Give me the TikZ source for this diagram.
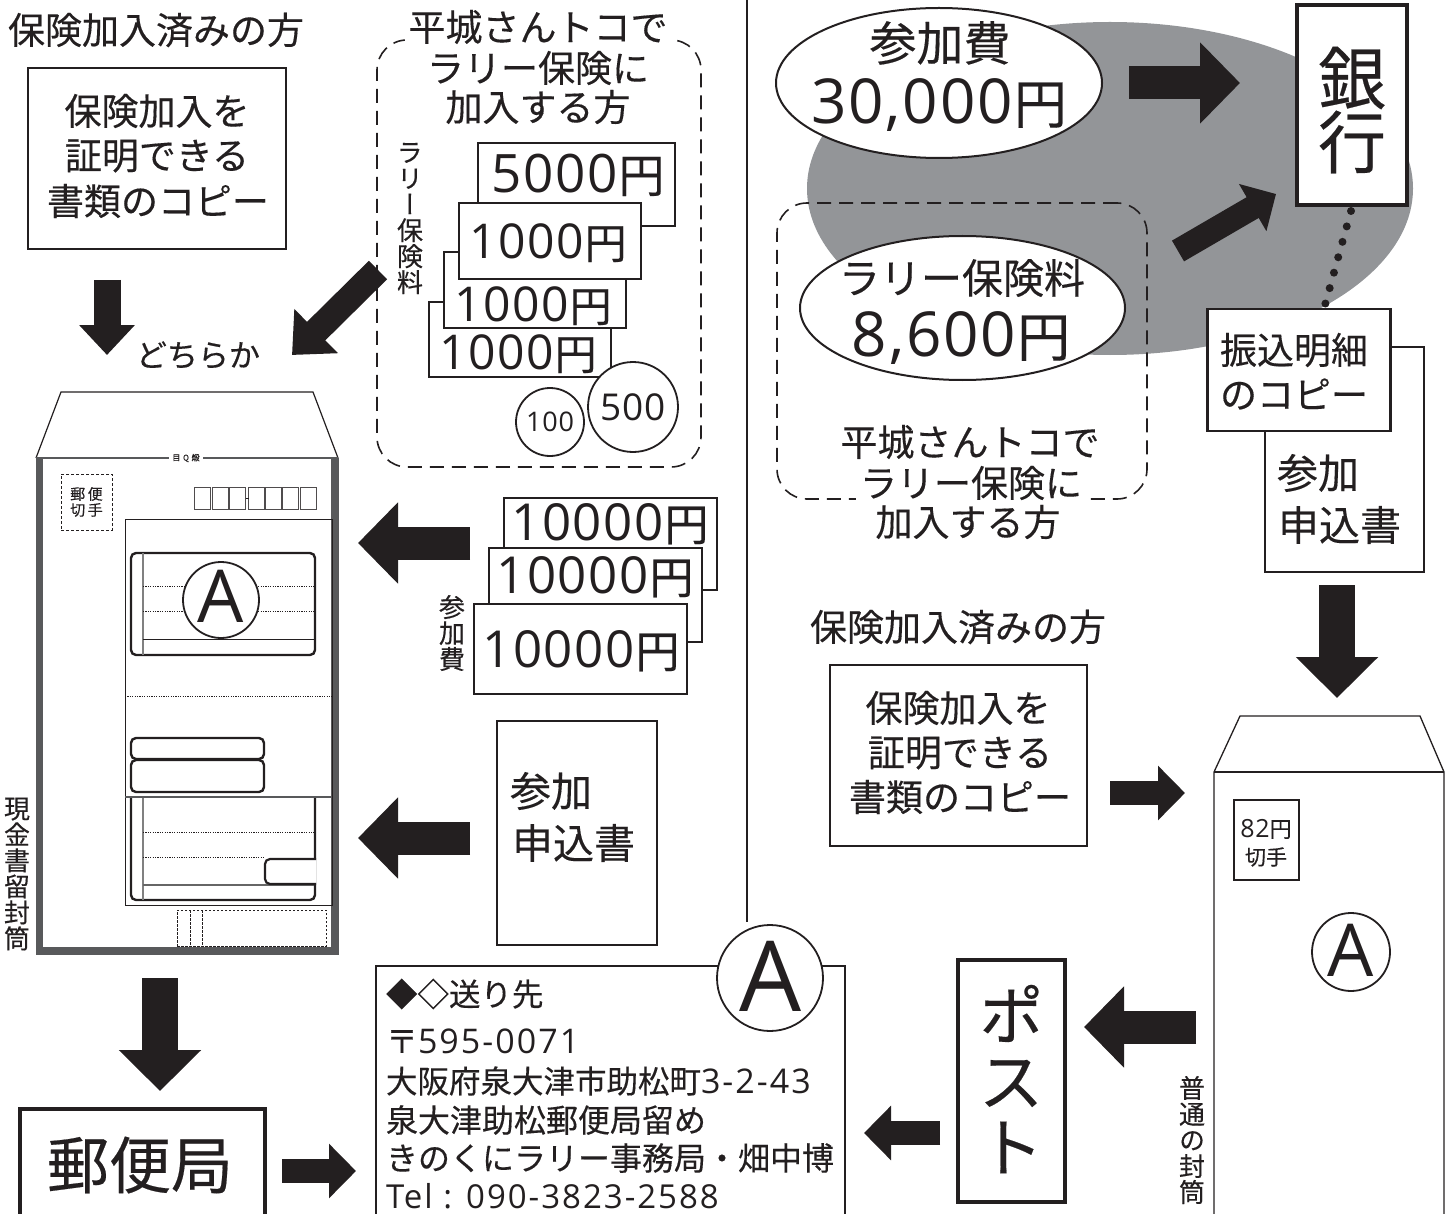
\documentclass[tikz,border=0pt]{standalone}
\usepackage{fontspec}
\setmainfont[FakeBold=0.3]{Noto Sans CJK JP}
\newfontfamily\vfont[RawFeature={+vert},FakeBold=0.3]{Noto Sans CJK JP}
\newfontfamily\dgf[LetterSpace=3]{Open Sans}
\newfontfamily\dgw[LetterSpace=6]{Open Sans}
\usetikzlibrary{arrows.meta,shapes.geometric}
\definecolor{ink}{HTML}{231F20}
\definecolor{greyfill}{HTML}{939598}
\definecolor{band}{HTML}{58595B}
\newcommand{\fs}[1]{\fontsize{#1}{#1}\selectfont}
\newcommand{\yen}[3]{{\fs{#1}\dgf #3}{\fs{#2}\kern1pt 円}}
\tikzset{
  every node/.style={inner sep=0pt,outer sep=0pt,text=ink},
  tx/.style={font=\fs{#1}},
  dg/.style={font=\fs{#1}\dgf},
  vt/.style={font=\fs{#1}\vfont,align=center},
  boxa/.style={draw=ink,line width=2.2pt,fill=white},
  boxb/.style={draw=ink,line width=4.5pt,fill=white},
  dashbox/.style={draw=ink,line width=1.6pt,dash pattern=on 14pt off 8pt,rounded corners=30pt},
  ell/.style={ellipse,draw=ink,line width=2pt,fill=white},
  circ/.style={circle,draw=ink,line width=1.8pt,fill=white},
  arrbig/.style={draw=ink,line width=33pt,-{Triangle[length=40pt,width=79pt]}},
  arrdown/.style={draw=ink,line width=36pt,-{Triangle[length=41pt,width=80pt]}},
  arrmid/.style={draw=ink,line width=27pt,-{Triangle[length=30pt,width=54pt]}},
  arrsm/.style={draw=ink,line width=24pt,-{Triangle[length=27pt,width=53pt]}},
  thin1/.style={draw=ink,line width=0.9pt},
  dots/.style={draw=ink,line width=0.8pt,dash pattern=on 1.2pt off 1.2pt},
  rr/.style={draw=ink,line width=2.4pt,rounded corners=5pt},
  tiny/.style={draw=ink,line width=0.8pt,dash pattern=on 2.5pt off 1.5pt},
  post/.style={draw=ink!80,line width=1pt,fill=white,minimum width=16pt,minimum height=22pt},
}
\begin{document}
\begin{tikzpicture}[x=1pt,y=-1pt]
\useasboundingbox (0,0) rectangle (1447,1214);
\clip (0,0) rectangle (1447,1214);

% centre rule
\coordinate (ruletop) at (747,0);
\coordinate (rulebot) at (747,922);
\draw[draw=ink,line width=2pt] (ruletop) -- (rulebot);

% ---------- left column
\node[tx=37,anchor=west] (t1) at (8,30) {保険加入済みの方};
\node[boxa,minimum width=258pt,minimum height=181pt] (ins) at (157,158.5) {};
\node[tx=37] (ins1) at (157,111) {保険加入を};
\node[tx=37] (ins2) at (157,156) {証明できる};
\node[tx=37] (ins3) at (158,201) {書類のコピー};
\node[tx=31] (either) at (198,355) {どちらか};

\node[dashbox,draw,minimum width=324pt,minimum height=427pt] (dl) at (539,253.5) {};
\node[tx=37,fill=white,inner xsep=4pt] (dl1) at (538,27) {平城さんトコで};
\node[tx=37] (dl2) at (538,68) {ラリー保険に};
\node[tx=37] (dl3) at (538,107) {加入する方};
\node[vt=26] (vl) at (410,218.5) {ラ\\リ\\ー\\保\\険\\料};

\node[boxa,minimum width=197pt,minimum height=83pt] (b5) at (576.5,184.5) {};
\node (b5t) at (578,175) {\yen{53}{46}{5000}};
\node[boxa,minimum width=182pt,minimum height=75pt] (b3) at (520,339.5) {};
\node (b3t) at (518,354) {\yen{48}{42}{1000}};
\node[boxa,minimum width=182pt,minimum height=76pt] (b2) at (535,290) {};
\node (b2t) at (533,306) {\yen{48}{42}{1000}};
\node[boxa,minimum width=182pt,minimum height=76pt] (b1) at (550,241) {};
\node (b1t) at (548,243) {\yen{48}{42}{1000}};
\node[circ,minimum size=68pt,dg=27] (c100) at (550,422) {100};
\node[circ,minimum size=90pt,dg=37] (c500) at (633,407) {500};

% cash
\node[boxa,minimum width=213pt,minimum height=92pt] (y3) at (610.5,544) {};
\node (y3t) at (610,524) {\yen{51}{44}{10000}};
\node[boxa,minimum width=213pt,minimum height=94pt] (y2) at (595.5,595) {};
\node (y2t) at (595,577) {\yen{51}{44}{10000}};
\node[boxa,minimum width=213pt,minimum height=90pt] (y1) at (580.5,649) {};
\node (y1t) at (581,651) {\yen{51}{44}{10000}};
\node[vt=26] (vs) at (452,633) {参\\加\\費};

\node[boxa,minimum width=160pt,minimum height=224pt] (app) at (577,833) {};
\node[tx=41,anchor=west] (app1) at (510,791) {参加};
\node[tx=41,anchor=west] (app2) at (512,843) {申込書};

% envelope
\node[vt=26] (ve) at (17,874) {現\\金\\書\\留\\封\\筒};
\coordinate (f1) at (36,458); \coordinate (f2) at (61,392);
\coordinate (f3) at (313,392); \coordinate (f4) at (338,458);
\draw[thin1,line width=1.2pt] (f1) -- (f2) -- (f3) -- (f4);
\fill[band] (35.5,458) rectangle (43,955);
\fill[band] (331,458) rectangle (339,955);
\fill[band] (35.5,947) rectangle (339,955);
\draw[draw=band,line width=1.8pt] (f1) -- (f4);
\node[fill=white,font=\fs{8},inner xsep=3pt] (flab) at (186,458) {目\,\,Q\,\,煅};
\node[draw=ink,line width=1pt,dash pattern=on 3pt off 2pt,minimum width=51pt,minimum height=56pt,font=\fs{15},align=center] (stamp) at (86.5,502) {郵\,便\\[1pt]切\,手};
\node[post] (p1) at (202.5,498) {};
\node[post] (p2) at (220,498) {};
\node[post] (p3) at (237.5,498) {};
\node[post] (p4) at (256.5,498) {};
\node[post] (p5) at (273.5,498) {};
\node[post] (p6) at (290.5,498) {};
\node[post] (p7) at (308,498) {};
\draw[thin1] (p3) -- (p4);
\node[thin1,minimum width=207pt,minimum height=386pt] (panel) at (228.5,712) {};
\draw[dots] (125,696) -- (332,696);
% form A
\node[rr,minimum width=184pt,minimum height=102pt] (fa) at (223,604) {};
\draw[draw=black!50,line width=1.2pt] (143,553) -- (143,655);
\draw[dots] (143,586) -- (314,586);
\draw[dots] (143,611) -- (314,611);
\draw[thin1] (143,639) -- (314,639);
\node[circ,minimum size=76pt] (ca) at (221,600) {};
\node[dg=73] (cat) at (221,596) {A};
\node[rr,minimum width=133pt,minimum height=21pt] (r1) at (197.5,748.5) {};
\node[rr,minimum width=133pt,minimum height=32pt] (r2) at (197.5,776) {};
% form lower
\draw[rr] (131,797) -- (131,900) -- (315,900) -- (315,797);
\draw[draw=black!50,line width=1.2pt] (143,797) -- (143,900);
\draw[dots] (143,832) -- (314,832);
\draw[dots] (143,857) -- (265,857);
\draw[thin1,draw=black!60,line width=1.2pt] (143,885) -- (314,885);
\fill[white] (265,859) rectangle (316,884);
\draw[rr,line width=2.2pt] (316,859) -- (265,859) -- (265,884) -- (316,884);
\draw[draw=band,line width=1.6pt] (125,797) -- (332,797);
\node[tiny,minimum width=149pt,minimum height=36pt] (dsh) at (251.5,928) {};
\draw[tiny] (190,910) -- (190,946);
\draw[tiny] (202,910) -- (202,946);

% post office
\coordinate (po1) at (20,1220); \coordinate (po2) at (20,1109);
\coordinate (po3) at (265,1109); \coordinate (po4) at (265,1220);
\draw[draw=ink,line width=4.5pt] (po1) -- (po2) -- (po3) -- (po4);
\node[tx=62] (pot) at (140,1165) {郵便局};

% address
\coordinate (ad1) at (376,1220); \coordinate (ad2) at (376,966);
\coordinate (ad3) at (845,966); \coordinate (ad4) at (845,1220);
\draw[draw=ink,line width=2.2pt] (ad1) -- (ad2) -- (ad3) -- (ad4);
\node[circ,minimum size=106pt] (cb) at (770,978) {};
\node[dg=98] (cbt) at (770,976) {A};
\node[tx=31.5,anchor=west] (a1) at (386,994) {◆◇送り先};
\node[tx=32,anchor=west] (a2) at (386,1041) {〒{\fs{34}\dgw 595-0071}};
\node[tx=31.5,anchor=west] (a3) at (386,1081) {大阪府泉大津市助松町{\fs{34}\dgw 3-2-43}};
\node[tx=32,anchor=west] (a4) at (386,1120) {泉大津助松郵便局留め};
\node[tx=32,anchor=west] (a5) at (386,1158) {きのくにラリー事務局・畑中博};
\node[anchor=west,font=\fs{33}\dgw] (a6) at (386,1196) {Tel : 090-3823-2588};

% left arrows
\coordinate (a1s) at (107,280); \coordinate (a1e) at (107,355);
\draw[arrmid] (a1s) -- (a1e);
\coordinate (a2s) at (378,270); \coordinate (a2e) at (292,355);
\draw[arrsm,line width=26pt,-{Triangle[length=34pt,width=60pt]}] (a2s) -- (a2e);
\coordinate (a3s) at (470,543); \coordinate (a3e) at (358,543);
\draw[arrbig] (a3s) -- (a3e);
\coordinate (a4s) at (470,838); \coordinate (a4e) at (358,838);
\draw[arrbig] (a4s) -- (a4e);
\coordinate (a5s) at (160,978); \coordinate (a5e) at (160,1091);
\draw[arrdown] (a5s) -- (a5e);
\coordinate (a6s) at (282,1171); \coordinate (a6e) at (356,1171);
\draw[arrsm] (a6s) -- (a6e);

% ---------- right column
\fill[greyfill] (1110,188.5) ellipse [x radius=303,y radius=166.5];
\node[ell,minimum width=326pt,minimum height=150pt] (e1) at (939,83) {};
\node[tx=47] (e1a) at (940,43) {参加費};
\node (e1b) at (939,105) {\yen{62}{53}{30,000}};
\node[dashbox,draw,minimum width=370pt,minimum height=296pt] (dr) at (962,351) {};
\node[ell,minimum width=325pt,minimum height=144pt] (e2) at (962.5,308) {};
\node[tx=41] (e2a) at (962,278) {ラリー保険料};
\node (e2b) at (961,338) {\yen{62}{53}{8,600}};
\node[tx=37] (dr1) at (970,442) {平城さんトコで};
\node[tx=37,fill=white,inner xsep=4pt] (dr2) at (971,483) {ラリー保険に};
\node[tx=37] (dr3) at (968,522) {加入する方};

\node[boxb,minimum width=110pt,minimum height=200pt] (bank) at (1352,105) {};
\node[tx=68] (bank1) at (1352,78) {銀};
\node[tx=68] (bank2) at (1352,142) {行};

\coordinate (d1) at (1351,211); \coordinate (d2) at (1325,305);
\draw[draw=ink,line width=8pt,line cap=round,dash pattern=on 0pt off 16pt] (d1) -- (d2);

\node[boxa,minimum width=159pt,minimum height=225pt] (app2b) at (1344.5,459.5) {};
\node[tx=41,anchor=west] (ap2a) at (1277,473) {参加};
\node[tx=41,anchor=west] (ap2c) at (1278,525) {申込書};
\node[boxa,minimum width=183pt,minimum height=122pt] (slip) at (1299,370) {};
\node[tx=37,anchor=west] (sl1) at (1220,350) {振込明細};
\node[tx=37,anchor=west] (sl2) at (1220,394) {のコピー};

\node[tx=37,anchor=west] (t2) at (810,627) {保険加入済みの方};
\node[boxa,minimum width=257pt,minimum height=181pt] (ins2b) at (958.5,755.5) {};
\node[tx=37] (ir1) at (958,708) {保険加入を};
\node[tx=37] (ir2) at (960,753) {証明できる};
\node[tx=37] (ir3) at (960,797) {書類のコピー};

% envelope right
\coordinate (g1) at (1214,1220); \coordinate (g2) at (1214,772);
\coordinate (g3) at (1240,716); \coordinate (g4) at (1420,716);
\coordinate (g5) at (1444,772); \coordinate (g6) at (1444,1220);
\draw[thin1,line width=1.3pt] (g1) -- (g2) -- (g3) -- (g4) -- (g5) -- (g6);
\draw[thin1,line width=1.3pt] (g2) -- (g5);
\node[thin1,line width=1.2pt,minimum width=65pt,minimum height=80pt] (st) at (1266.5,840) {};
\node (st1) at (1266,829) {{\fs{25}\dgf 82}{\fs{22}円}};
\node[tx=21] (st2) at (1266,857) {切手};
\node[circ,minimum size=78pt] (cc) at (1351,952) {};
\node[dg=73] (cct) at (1351,950) {A};
\node[vt=26] (vn) at (1192,1140) {普\\通\\の\\封\\筒};

\node[boxb,minimum width=107pt,minimum height=242pt] (pst) at (1011.5,1081) {};
\node[font=\fs{66}\vfont,align=center] (pstt) at (1011,1079) {ポ\\ス\\ト};

% right arrows
\coordinate (r1s) at (1129,83); \coordinate (r1e) at (1240,83);
\draw[arrbig] (r1s) -- (r1e);
\coordinate (r2s) at (1178,251); \coordinate (r2e) at (1276,194);
\draw[arrsm] (r2s) -- (r2e);
\coordinate (r3s) at (1337,585); \coordinate (r3e) at (1337,698);
\draw[arrdown] (r3s) -- (r3e);
\coordinate (r4s) at (1110,793); \coordinate (r4e) at (1185,793);
\draw[arrsm] (r4s) -- (r4e);
\coordinate (r5s) at (1196,1027); \coordinate (r5e) at (1084,1027);
\draw[arrbig] (r5s) -- (r5e);
\coordinate (r6s) at (940,1133); \coordinate (r6e) at (864,1133);
\draw[arrsm] (r6s) -- (r6e);
\end{tikzpicture}
\end{document}
